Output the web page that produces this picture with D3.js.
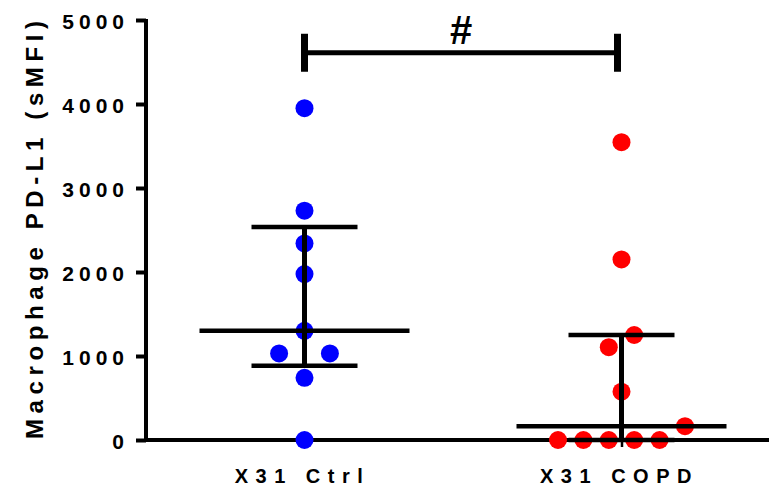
<!DOCTYPE html>
<html>
<head>
<meta charset="utf-8">
<script src="https://cdn.jsdelivr.net/npm/d3@7"></script>
<style>
  body { margin: 0; background: #fff; }
  svg text { font-family: "Liberation Sans", Arial, sans-serif; font-weight: bold; fill: #000; }
</style>
</head>
<body>
<svg id="chart" width="769" height="489"></svg>
<script>
// Groups and per-subject values (sMFI)
const groups = ["X31 Ctrl", "X31 COPD"];
const ctrlValues = [3950, 2730, 2340, 1975, 1030, 1300, 1030, 740, 0];
const copdValues = [3545, 2150, 1105, 1250, 575, 0, 0, 0, 0, 0, 165];
const groupColors = ["#0000ff", "#ff0000"];
const yTicks = [0, 1000, 2000, 3000, 4000, 5000];
const yTitle = "Macrophage PD-L1 (sMFI)";
const sigLabel = "#";

const series = [ctrlValues, copdValues];

const svg = d3.select("#chart");
const W = 769, H = 489;

const y = d3.scaleLinear().domain([0, 5000]).range([440, 20]);
const x = d3.scalePoint().domain(groups).range([146, 780]).padding(0.5);

// Quartiles, (n+1)p interpolation
function quant(sorted, p) {
  const n = sorted.length;
  const pos = (n + 1) * p;
  if (pos <= 1) return sorted[0];
  if (pos >= n) return sorted[n - 1];
  const lo = Math.floor(pos), f = pos - lo;
  return sorted[lo - 1] + f * (sorted[lo] - sorted[lo - 1]);
}

// Scatter layout: values falling in the same band sit side by side,
// centred on the group, in list order.
const band = 500, slot = 25.4, r = 9;
function scatterLayout(values) {
  const bins = d3.group(values.map((v, i) => ({ v, i })), d => Math.floor(d.v / band));
  const out = [];
  for (const [, pts] of bins) {
    const k = pts.length;
    pts.forEach((p, j) => out.push({ v: p.v, off: (j - (k - 1) / 2) * slot }));
  }
  return out;
}

// Y axis
const yAxis = svg.append("g")
  .attr("transform", "translate(146,0)")
  .call(d3.axisLeft(y).tickValues(yTicks).tickFormat(d3.format("d")).tickSize(10).tickSizeOuter(0).tickPadding(7));
yAxis.select(".domain").attr("stroke", "#000").attr("stroke-width", 4).attr("d", `M0,${y(5000) - 1}V${y(0) + 2}`);
yAxis.selectAll(".tick line").attr("stroke", "#000").attr("stroke-width", 4);
yAxis.selectAll(".tick text")
  .attr("font-size", 21).attr("letter-spacing", 5).attr("dy", "0.42em")
  .style("font-family", '"Liberation Sans", Arial, sans-serif').style("font-weight", "bold");

// X axis
const xAxis = svg.append("g")
  .attr("transform", `translate(0,${y(0)})`)
  .call(d3.axisBottom(x).tickSize(7).tickSizeOuter(0).tickFormat(""));
xAxis.select(".domain").attr("stroke", "#000").attr("stroke-width", 4).attr("d", `M144,0H${W}`);
xAxis.selectAll(".tick line").attr("stroke", "#000").attr("stroke-width", 2.5);

// Group labels
svg.append("g").selectAll("text").data(groups).join("text")
  .attr("x", d => x(d) - 2)
  .attr("y", 483)
  .attr("text-anchor", "middle")
  .attr("font-size", 20)
  .attr("letter-spacing", 7.5)
  .text(d => d);

// Y title
svg.append("text")
  .attr("transform", "translate(43,230) rotate(-90)")
  .attr("text-anchor", "middle")
  .attr("font-size", 24)
  .attr("textLength", 418)
  .attr("lengthAdjust", "spacing")
  .text(yTitle);

// Points
series.forEach((vals, gi) => {
  const cx = x(groups[gi]);
  svg.append("g").selectAll("circle").data(scatterLayout(vals)).join("circle")
    .attr("cx", d => cx + d.off)
    .attr("cy", d => y(d.v))
    .attr("r", r)
    .attr("fill", groupColors[gi]);
});

// Median with interquartile range
series.forEach((vals, gi) => {
  const s = vals.slice().sort(d3.ascending);
  const q1 = quant(s, 0.25), med = quant(s, 0.5), q3 = quant(s, 0.75);
  const cx = x(groups[gi]);
  const g = svg.append("g").attr("stroke", "#000");
  g.append("line").attr("x1", cx).attr("x2", cx).attr("y1", y(q3)).attr("y2", y(q1)).attr("stroke-width", 5);
  [q1, q3].forEach(q => g.append("line").attr("x1", cx - 53).attr("x2", cx + 53).attr("y1", y(q)).attr("y2", y(q)).attr("stroke-width", 4.5));
  g.append("line").attr("x1", cx - 105).attr("x2", cx + 105).attr("y1", y(med)).attr("y2", y(med)).attr("stroke-width", 4.5);
});

// Significance bracket
const bx1 = x(groups[0]), bx2 = x(groups[1]) - 4, by = y(4610);
const br = svg.append("g").attr("stroke", "#000");
br.append("line").attr("x1", bx1).attr("x2", bx2).attr("y1", by).attr("y2", by).attr("stroke-width", 5);
[bx1, bx2].forEach(bx => br.append("line").attr("x1", bx).attr("x2", bx).attr("y1", by - 19).attr("y2", by + 19).attr("stroke-width", 7));
svg.append("text")
  .attr("x", (bx1 + bx2) / 2)
  .attr("y", 43.5)
  .attr("text-anchor", "middle")
  .attr("font-size", 40)
  .text(sigLabel);
</script>
</body>
</html>
